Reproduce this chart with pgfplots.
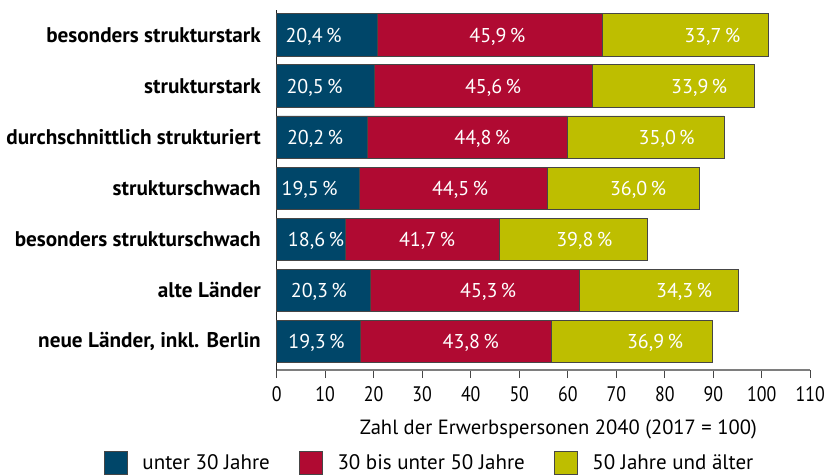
\documentclass[border=0pt]{standalone}
\usepackage{pgfplots}
\pgfplotsset{compat=1.18}
\usepackage{pgfplotstable}
\usepackage{fontspec}
\setmainfont{PT Sans}
\newfontfamily\tickfont[FakeStretch=0.85]{PT Sans}

\definecolor{jung}{RGB}{0,70,105}
\definecolor{mittel}{RGB}{176,10,50}
\definecolor{alt}{RGB}{190,190,0}
\definecolor{rand}{RGB}{70,70,70}

% segment lengths = index 2040 (2017=100) times share
\pgfplotstableread{
y a b c
7 20.69 46.54 34.17
6 20.19 44.92 33.39
5 18.62 41.31 32.27
4 16.98 38.76 31.36
3 14.19 31.82 30.37
2 19.33 43.13 32.65
1 17.33 39.33 33.14
}\segs

% label positions and shares in percent
\pgfplotstableread{
y pa pb pc la lb lc
7 7.6 45.5 89.8 20,4 45,9 33,7
6 7.8 44.6 87.1 20,5 45,6 33,9
5 7.9 42.4 80.4 20,2 44,8 35,0
4 6.8 37.8 74.5 19,5 44,5 36,0
3 8.1 31.0 63.4 18,6 41,7 39,8
2 8.7 43.6 84.0 20,3 45,3 34,3
1 8.2 40.0 78.0 19,3 43,8 36,9
}\labs

\pgfplotsset{
  base/.style={
    scale only axis,
    width=533.6pt, height=360.5pt,
    xmin=0, xmax=110,
    ymin=0.443, ymax=7.5,
  },
}

\begin{document}
\begin{tikzpicture}
\path[use as bounding box] (-276.7pt,-105pt) rectangle (553.3pt,370pt);
\begin{axis}[
    base,
    xbar stacked,
    bar width=42.5pt,
    axis x line*=bottom,
    axis y line*=left,
    x axis line style={draw=rand!70, line width=1.2pt},
    y axis line style={draw=black!85, line width=1.2pt},
    xtick={0,10,...,110},
    tick align=outside,
    major tick length=8pt,
    x tick style={draw=rand, line width=1pt},
    y tick style={draw=none},
    ytick={1,...,7},
    yticklabels={{neue Länder, inkl. Berlin}, alte Länder, besonders strukturschwach, strukturschwach, durchschnittlich strukturiert, strukturstark, besonders strukturstark},
    yticklabel style={font=\fontsize{21.2}{23}\selectfont\bfseries, anchor=east, inner sep=0pt, xshift=-7.7pt},
    xticklabel style={font=\fontsize{21}{23}\selectfont\tickfont, anchor=base, inner sep=0pt, yshift=-23.5pt},
    /pgf/number format/assume math mode=true,
    xlabel={Zahl der Erwerbspersonen 2040 (2017 = 100)},
    xlabel style={font=\fontsize{20.6}{23}\selectfont, inner sep=0pt,
      at={(axis description cs:0.5279,-0.1784)}, anchor=base},
    legend columns=3,
    legend style={draw=none, at={(axis description cs:-0.3231,-0.2893)}, anchor=south west,
      font=\fontsize{21}{23}\selectfont, inner sep=0pt, outer sep=0pt,
      nodes={inner sep=0pt, text depth=0pt},
      /tikz/every odd column/.append style={column sep=14.4pt},
      /tikz/every even column/.append style={column sep=29.4pt}},
    legend image code/.code={\draw[#1, draw=rand, line width=0.8pt] (0pt,-12pt) rectangle (23pt,10.6pt);},
    every axis plot/.append style={draw=rand, line width=0.8pt},
    clip=false,
]
\addplot[fill=jung] table[x=a, y=y]{\segs};
\addplot[fill=mittel] table[x=b, y=y]{\segs};
\addplot[fill=alt] table[x=c, y=y]{\segs};
\legend{unter 30 Jahre, 30 bis unter 50 Jahre, 50 Jahre und älter}
\end{axis}

\begin{axis}[
    base,
    hide axis,
    nodes near coords={\pgfplotspointmeta\,\%},
    point meta=explicit symbolic,
    every node near coord/.append style={anchor=base, yshift=-7pt, text=white, font=\fontsize{20}{22}\selectfont},
    clip=false,
]
\addplot[draw=none, mark=none] table[x=pa, y=y, meta=la]{\labs};
\addplot[draw=none, mark=none] table[x=pb, y=y, meta=lb]{\labs};
\addplot[draw=none, mark=none] table[x=pc, y=y, meta=lc]{\labs};
\end{axis}
\end{tikzpicture}
\end{document}
